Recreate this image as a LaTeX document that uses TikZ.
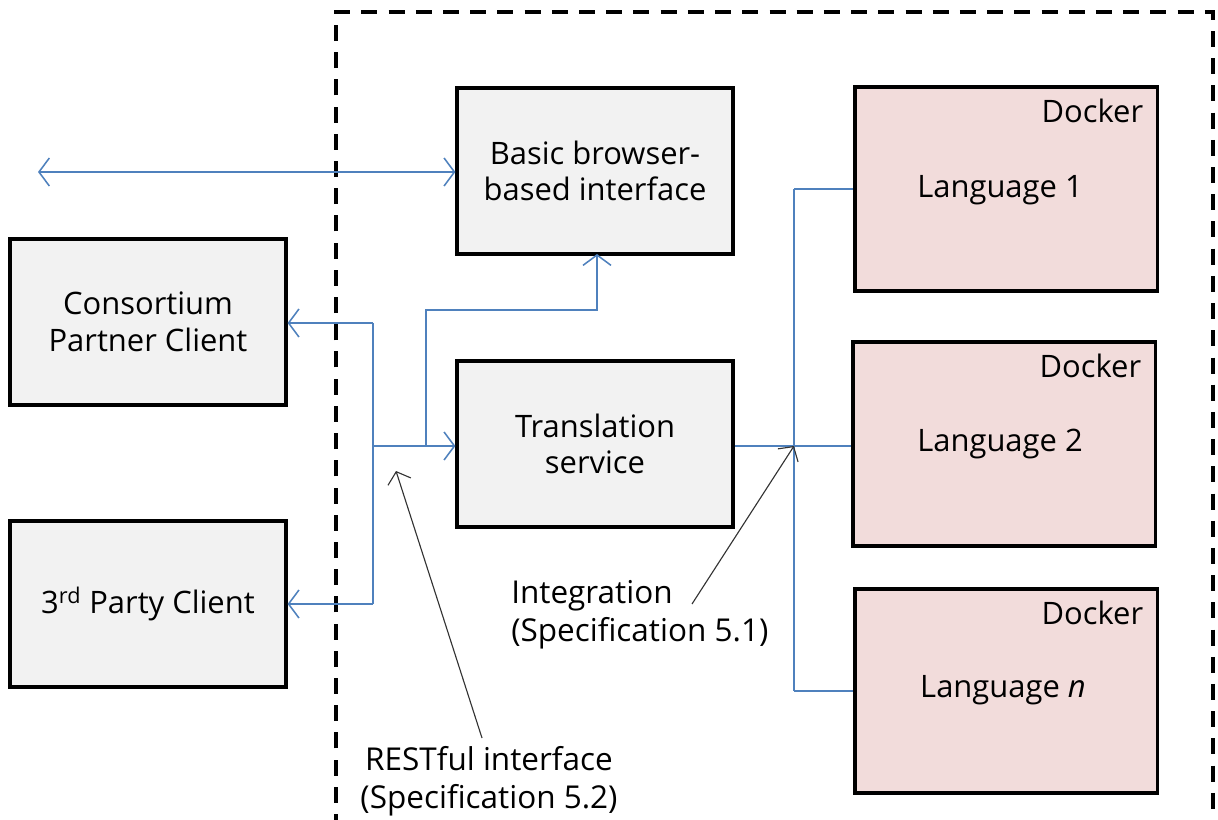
\documentclass[tikz,border=0pt]{standalone}
\usepackage{fontspec}
\setmainfont{Open Sans}
\usetikzlibrary{arrows.meta}
\definecolor{boxgray}{HTML}{F2F2F2}
\definecolor{boxpink}{HTML}{F2DCDB}
\definecolor{linkblue}{HTML}{4F81BD}
\tikzset{
    compbox/.style={draw=black, line width=2.2pt, fill=boxgray,
      minimum width=6.9cm, minimum height=4.15cm, align=center,
      inner sep=0pt, font=\fontsize{22}{26}\selectfont},
    dockbox/.style={compbox, fill=boxpink, minimum width=7.55cm, minimum height=5.1cm},
    link/.style={draw=linkblue, line width=1.1pt},
    linkarrow/.style={link, -{Straight Barb[length=2.6mm,width=7mm]}},
    notearrow/.style={draw=black!80, line width=0.8pt, -{Straight Barb[length=2.6mm,width=6mm]}},
    boxtext/.style={font=\fontsize{22}{26}\selectfont, align=center},
    notetext/.style={font=\fontsize{22.4}{27}\selectfont, inner sep=0pt},
  }
\begin{document}
\begin{tikzpicture}[x=0.025cm,y=-0.025cm]
      \useasboundingbox (0,0) rectangle (1218,820);

      % dashed border of the service
      \draw[line width=2.2pt, dash pattern=on 0.4cm off 0.28cm]
         (336,830) -- (336,12) -- (1213,12) -- (1213,830);

      % client boxes
      \node[compbox] (partner) at (148,322) {Consortium\\Partner Client};
      \node[compbox] (third)   at (148,604) {3\textsuperscript{rd} Party Client};

      % service boxes
      \node[compbox] (browser) at (595,171) {Basic browser-\\based interface};
      \node[compbox] (transl)  at (595,444) {Translation\\service};

      % docker boxes
      \node[dockbox] (lang1) at (1006,189) {};
      \node[dockbox] (lang2) at (1004,444) {};
      \node[dockbox] (langn) at (1006,691) {};
      \node[boxtext] at (1000,190) {Language 1};
      \node[boxtext] at (1000,444) {Language 2};
      \node[boxtext] at (1003,690) {Language \textit{n}};
      \foreach \b in {lang1,lang2,langn}
        \node[boxtext, anchor=north east] at ([xshift=-0.26cm,yshift=-0.22cm]\b.north east) {Docker};

      % junctions
      \coordinate (web)    at (38,172);
      \coordinate (restup) at (373,323);
      \coordinate (restlo) at (373,604);
      \coordinate (rest)   at (373,446);
      \coordinate (split)  at (426,446);
      \coordinate (bus)    at (794,446);

      % restful links
      \draw[link, {Straight Barb[length=2.6mm,width=7mm]}-{Straight Barb[length=2.6mm,width=7mm]}] (web) -- (browser.west |- web);
      \draw[link] (restup) -- (restlo);
      \draw[linkarrow] (restup) -- (partner.east |- restup);
      \draw[linkarrow] (restlo) -- (third.east |- restlo);
      \draw[linkarrow] (rest) -- (transl.west |- rest);
      \draw[linkarrow] (split) -- (426,310) -- (597,310) -- (597,254);

      % integration links
      \draw[link] (transl.east |- bus) -- (bus);
      \draw[link] (bus |- lang1) -- (bus |- langn);
      \draw[link] (bus |- lang1) -- (lang1.west);
      \draw[link] (bus) -- (lang2.west |- bus);
      \draw[link] (bus |- langn) -- (langn.west);

      % annotations
      \node[notetext, align=left, anchor=north west] (integ) at (511,580) {Integration\\(Specification 5.1)};
      \node[notetext, align=center, anchor=north] (restnote) at (489,746) {RESTful interface\\(Specification 5.2)};
      \draw[notearrow] (692,604) -- (bus);
      \draw[notearrow] (482,738) -- (396,471);
    \end{tikzpicture}
\end{document}
